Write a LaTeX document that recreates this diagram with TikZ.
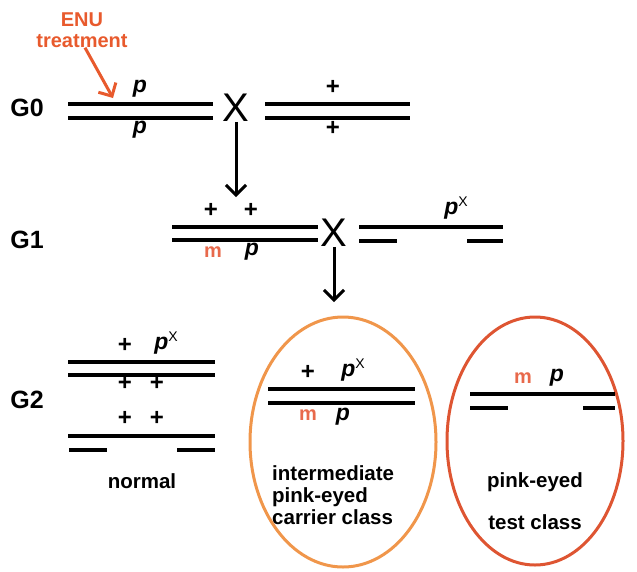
\documentclass[tikz,border=0pt]{standalone}
\usepackage{fontspec}
\setmainfont{Liberation Sans}
\usetikzlibrary{arrows.meta,shapes.geometric}
\definecolor{enuorange}{RGB}{232,90,45}
\definecolor{mred}{RGB}{232,105,75}
\definecolor{ellA}{RGB}{240,150,75}
\definecolor{ellB}{RGB}{222,85,50}
\newcommand{\pX}{\textit{p}\raisebox{8pt}{\fontsize{14}{14}\selectfont\mdseries\upshape X}}
\begin{document}
\begin{tikzpicture}[x=1pt,y=-1pt,
 chrom/.style={line width=4.5pt},
 lbl/.style={font=\fontsize{20.5}{22}\selectfont\bfseries, inner sep=0pt},
 gen/.style={font=\fontsize{25}{27}\selectfont\bfseries, inner sep=0pt},
 allele/.style={font=\fontsize{23}{23}\selectfont\bfseries\itshape, inner sep=0pt},
 plus/.style={font=\fontsize{24}{24}\selectfont\bfseries, inner sep=0pt},
 mut/.style={font=\fontsize{20}{20}\selectfont\bfseries, text=mred, inner sep=0pt},
 cross/.style={font=\fontsize{40}{40}\selectfont, inner sep=0pt},
 arr/.style={line width=3pt, -{Straight Barb[length=10pt,width=20pt,line width=3pt]}},
 classell/.style={ellipse, line width=3pt, inner sep=0pt},
]
\useasboundingbox (0,0) rectangle (637,571);

% ENU
\node[lbl,text=enuorange,align=center,font=\fontsize{20}{21}\selectfont\bfseries] (enu) at (82,30) {ENU\\treatment};
\coordinate (enuhit) at (113,98);
\draw[arr,color=enuorange] ([xshift=3pt]enu.south) -- (enuhit);

% G0
\node[gen] (g0) at (27,108) {G0};
\draw[chrom] (68,104) -- (213,104) (68,118) -- (213,118);
\node[allele] (g0pa) at (140,89) {p};
\node[allele] (g0pb) at (140,130) {p};
\node[cross] (x0) at (236,108) {X};
\draw[chrom] (265,104) -- (410,104) (265,118) -- (410,118);
\node[plus] (g0pla) at (333,87) {+};
\node[plus] (g0plb) at (333,128) {+};
\coordinate (a0end) at (236,197);
\draw[arr] (x0.south) -- (a0end);

% G1
\node[gen] (g1) at (27,240) {G1};
\draw[chrom] (172,227) -- (318,227) (172,240) -- (318,240);
\node[plus] (g1pla) at (211,210) {+};
\node[plus] (g1plb) at (251,210) {+};
\node[mut] (g1m) at (213,252) {m};
\node[allele] (g1p) at (252,252) {p};
\node[cross] (x1) at (334,233) {X};
\draw[chrom] (359,227) -- (503,227) (359,241) -- (397,241) (467,241) -- (503,241);
\node[allele] (g1px) at (456,208) {\pX};
\coordinate (a1end) at (334,302);
\draw[arr] (x1.south) -- (a1end);

% G2 normal
\node[gen] (g2) at (27,400) {G2};
\draw[chrom] (68,362) -- (215,362) (68,375) -- (215,375);
\node[plus] (npla) at (125,345) {+};
\node[allele] (npx) at (166,343) {\pX};
\node[plus] (nplb) at (125,383) {+};
\node[plus] (nplc) at (157,383) {+};
\node[plus] (npld) at (125,418) {+};
\node[plus] (nple) at (157,418) {+};
\draw[chrom] (68,436) -- (215,436) (69,450) -- (107,450) (177,450) -- (215,450);
\node[lbl] (normal) at (142,481) {normal};

% intermediate class
\node[classell,draw=ellA,minimum width=186pt,minimum height=250pt] (classA) at (343,442) {};
\draw[chrom] (268,389) -- (415,389) (268,403) -- (415,403);
\node[plus] (apl) at (308,372) {+};
\node[allele] (apx) at (353,370) {\pX};
\node[mut] (am) at (308,415) {m};
\node[allele] (ap) at (343,417) {p};
\node[lbl,align=left,anchor=north west] (atext) at (272,465) {intermediate\\pink-eyed\\carrier class};

% test class
\node[classell,draw=ellB,minimum width=176pt,minimum height=248pt] (classB) at (535,441) {};
\draw[chrom] (470,394) -- (615,394) (470,408) -- (508,408) (583,408) -- (615,408);
\node[mut] (bm) at (523,378) {m};
\node[allele] (bp) at (557,378) {p};
\node[lbl] (btexta) at (535,482) {pink-eyed};
\node[lbl] (btextb) at (535,522) {test class};
\end{tikzpicture}
\end{document}
